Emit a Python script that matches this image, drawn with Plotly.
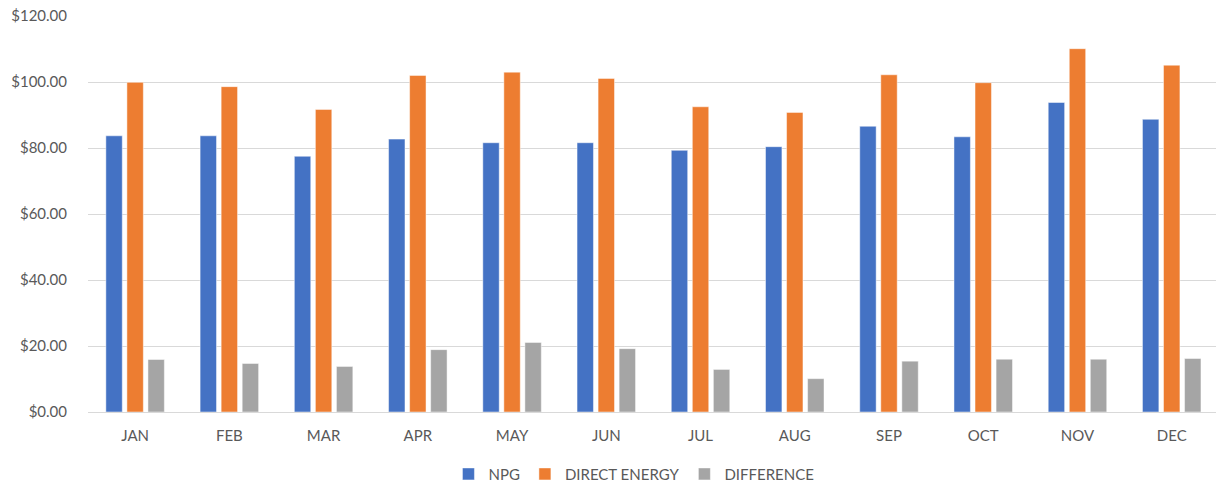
import plotly.graph_objects as go

months = ["JAN", "FEB", "MAR", "APR", "MAY", "JUN", "JUL", "AUG", "SEP", "OCT", "NOV", "DEC"]
npg = [83.7, 83.7, 77.5, 82.7, 81.6, 81.6, 79.3, 80.4, 86.6, 83.4, 93.8, 88.7]
direct_energy = [99.9, 98.6, 91.7, 102.0, 103.0, 101.1, 92.5, 90.8, 102.2, 99.8, 110.1, 105.1]
difference = [15.9, 14.7, 13.8, 18.9, 21.1, 19.2, 12.9, 10.1, 15.4, 16.0, 16.0, 16.2]

series = [
    ("NPG", npg, "#4472C4"),
    ("DIRECT ENERGY", direct_energy, "#ED7D31"),
    ("DIFFERENCE", difference, "#A5A5A5"),
]

font_family = "Lato, 'Open Sans', sans-serif"
text_color = "#595959"
grid_color = "#D9D9D9"

fig = go.Figure()
for name, vals, color in series:
    fig.add_trace(go.Bar(
        x=months, y=vals, name=name,
        marker=dict(color=color, line=dict(color="rgba(255,255,255,0.6)", width=0.8)),
    ))

fig.update_layout(
    width=1216, height=487,
    margin=dict(l=88, r=0, t=16, b=75, autoexpand=False),
    plot_bgcolor="white", paper_bgcolor="white",
    barmode="group", bargap=0.33, bargroupgap=0.22,
    font=dict(family=font_family, size=15, color=text_color),
    showlegend=True,
    legend=dict(orientation="h", x=0.484, xanchor="center",
                y=-0.157, yanchor="middle",
                font=dict(size=15, color=text_color), itemwidth=30, traceorder="normal"),
    xaxis=dict(
        type="category", range=[-0.5, 11.47], tickangle=0,
        showgrid=False, showline=False, zeroline=False, ticks="",
        tickfont=dict(size=15, color=text_color), ticklabelstandoff=13,
    ),
    yaxis=dict(
        range=[0, 120.01], tickvals=[0, 20, 40, 60, 80, 100, 120], tickformat="$.2f",
        showgrid=True, gridcolor=grid_color, gridwidth=1,
        zeroline=True, zerolinecolor=grid_color, zerolinewidth=1,
        showline=False, ticks="", ticklabeloverflow="allow",
        tickfont=dict(size=15, color=text_color), ticklabelstandoff=20,
    ),
)

fig.write_html("out.html", config={"displayModeBar": False},
               post_script="document.body.style.margin='0';")
